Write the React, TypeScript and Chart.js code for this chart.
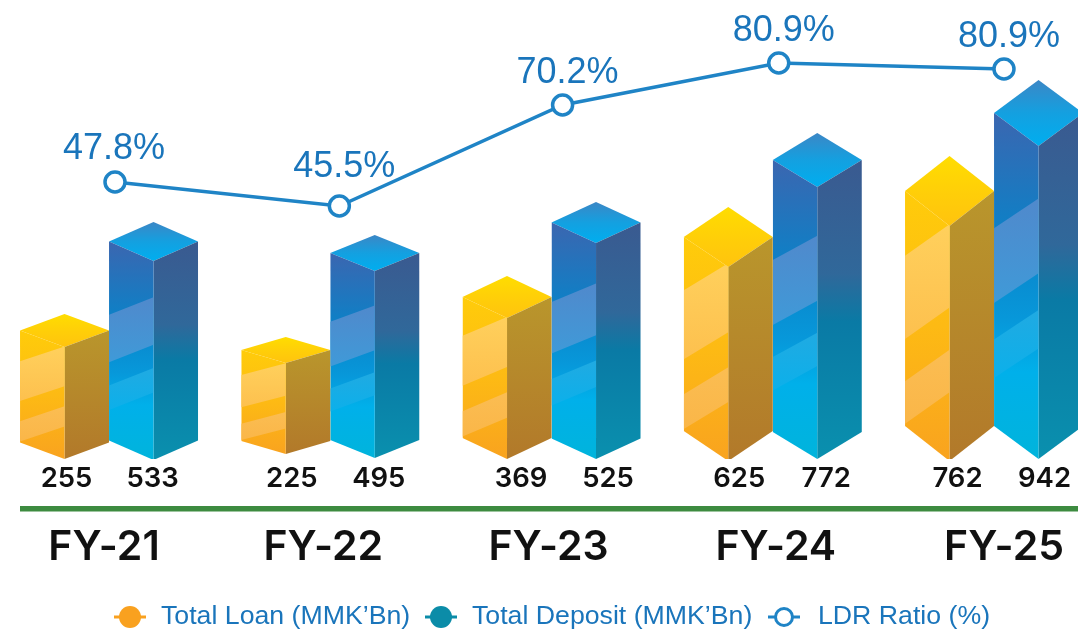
import React, { useEffect, useRef } from "react";
import { Chart, registerables, BarController } from "chart.js";

Chart.register(...registerables);

const categories = ["FY-21", "FY-22", "FY-23", "FY-24", "FY-25"];
const loanLabel = "Total Loan (MMK’Bn)";
const depositLabel = "Total Deposit (MMK’Bn)";
const ldrLabel = "LDR Ratio (%)";
const loanValues = [255, 225, 369, 625, 762];
const depositValues = [533, 495, 525, 772, 942];
const ldrValues = ["47.8%", "45.5%", "70.2%", "80.9%", "80.9%"];
// Drawn heights (the infographic is not to scale with its printed values)
const loanDrawnHeights = [112, 91, 141, 194, 235];
const depositDrawnHeights = [199, 187, 216, 272, 313];
const ldrDrawnLevels = [277, 253, 354, 396, 390];
const ldrCategoryPositions = [0.027, 1.041, 2.05, 3.027, 4.045];

// Styling of the isometric blocks, separate from the data
const loanDepth = [16.5, 13, 21, 30, 35];
const depositDepth = [19.5, 18, 20.5, 27, 33];
const loanDrop = [0, -5, 0, 2, 2];
const depositDrop = [1, -1, 0, 0, 0];
const loanLabelDx = [2, 6, 14, 11, 8];
const depositLabelDx = [-1, 4, 12, 9, 6];
const catLabelDx = [-5, -7, -3, 3, 10];
const ldrLabelOffset = [
  [-1, -33],
  [5, -39],
  [5, -32],
  [5, -32],
  [5, -32],
];

const BLUE_TEXT = "#1a75bb";
const PAGE_SHIFT = 2; // canvas sits 2px left of the page

type Stops = [number, string][];
type Palette = {
  top: Stops;
  side: Stops;
  left: Stops;
  stripes: [number, number, string, string][];
};

const loanPalette: Palette = {
  top: [
    [0, "#ffdd00"],
    [0.5, "#ffcf08"],
    [1, "#ffc30e"],
  ],
  side: [
    [0, "#b9962c"],
    [1, "#b2792a"],
  ],
  left: [
    [0, "#ffcc0a"],
    [0.5, "#fdba14"],
    [1, "#f9a31f"],
  ],
  stripes: [
    [0.275, 0.63, "#ffd05c", "#fdc04e"],
    [0.81, 0.99, "#fbbd52", "#fab648"],
  ],
};
const depositPalette: Palette = {
  top: [
    [0, "#3b87c6"],
    [0.5, "#14a0e0"],
    [1, "#00aeef"],
  ],
  side: [
    [0, "#3a5a90"],
    [0.38, "#30689a"],
    [0.54, "#0a7aa5"],
    [1, "#0a90ae"],
  ],
  left: [
    [0, "#3b66b0"],
    [0.36, "#0b82c8"],
    [0.6, "#0798da"],
    [0.75, "#00b0ea"],
    [1, "#00b4dc"],
  ],
  stripes: [
    [0.368, 0.607, "#5089cc", "#3f9ad8"],
    [0.724, 0.847, "#20aae2", "#0cb0ea"],
  ],
};

function poly(ctx: CanvasRenderingContext2D, pts: number[][]) {
  ctx.beginPath();
  pts.forEach(([x, y], i) => (i ? ctx.lineTo(x, y) : ctx.moveTo(x, y)));
  ctx.closePath();
}

function grad(ctx: CanvasRenderingContext2D, y0: number, y1: number, stops: Stops) {
  const g = ctx.createLinearGradient(0, y0, 0, y1);
  stops.forEach(([o, c]) => g.addColorStop(o, c));
  return g;
}

function drawBlock(
  ctx: CanvasRenderingContext2D,
  cx: number,
  frontTop: number,
  frontBottom: number,
  w: number,
  d: number,
  p: Palette
) {
  const l = cx - w / 2;
  const r = cx + w / 2;
  const cornerTop = frontTop - d;
  const cornerBottom = frontBottom - d;
  const apex = frontTop - 2 * d;

  // top face
  poly(ctx, [[l, cornerTop], [cx, apex], [r, cornerTop], [cx, frontTop]]);
  ctx.fillStyle = grad(ctx, apex, frontTop, p.top);
  ctx.fill();

  // right face
  poly(ctx, [[cx, frontTop], [r, cornerTop], [r, cornerBottom], [cx, frontBottom]]);
  ctx.fillStyle = grad(ctx, cornerTop, frontBottom, p.side);
  ctx.fill();

  // left face with its stripes
  ctx.save();
  poly(ctx, [[l, cornerTop], [cx, frontTop], [cx, frontBottom], [l, cornerBottom]]);
  ctx.clip();
  ctx.fillStyle = grad(ctx, cornerTop, frontBottom, p.left);
  ctx.fillRect(l, apex, w, frontBottom - apex);
  const edge = cornerBottom - cornerTop;
  const rise = d * 0.9;
  p.stripes.forEach(([a, b, c0, c1]) => {
    const ya = cornerTop + edge * a;
    const yb = cornerTop + edge * b;
    poly(ctx, [[l, ya], [cx, ya - rise], [cx, yb - rise], [l, yb]]);
    ctx.fillStyle = grad(ctx, ya - rise, yb, [[0, c0], [1, c1]]);
    ctx.fill();
  });
  ctx.restore();
}

class Block3DController extends BarController {
  static id = "block3d";
  static defaults = { ...(BarController as any).defaults };
  static overrides = (BarController as any).overrides;
  // the ratio line's own x axis must not split the bar groups
  _getAxis() {
    return ["x"];
  }
  draw() {
    const self = this as any;
    const ctx = self.chart.ctx;
    const ds = self.getDataset();
    self._cachedMeta.data.forEach((el: any, i: number) => {
      const { x, y, base, width } = el.getProps(["x", "y", "base", "width"], true);
      const drop = ds.blockDrop[i];
      drawBlock(ctx, x, y + drop, base + drop, width, ds.blockDepth[i], ds.blockPalette);
    });
  }
}
Chart.register(Block3DController as any);

const annotations = {
  id: "annotations",
  afterDraw(chart: any) {
    const ctx: CanvasRenderingContext2D = chart.ctx;
    const xs = chart.scales.x;
    const loanMeta = chart.getDatasetMeta(0).data;
    const depMeta = chart.getDatasetMeta(1).data;
    const ldrMeta = chart.getDatasetMeta(2).data;
    ctx.save();
    ctx.textBaseline = "middle";
    ctx.textAlign = "center";
    (ctx as any).textRendering = "optimizeSpeed";

    // bar value labels
    ctx.fillStyle = "#111111";
    ctx.font = "600 27.5px Inter";
    categories.forEach((_, i) => {
      ctx.fillText(String(loanValues[i]), loanMeta[i].x + loanLabelDx[i], 479);
      ctx.fillText(String(depositValues[i]), depMeta[i].x + depositLabelDx[i], 479);
    });

    // baseline rule
    ctx.fillStyle = "#3d8b40";
    ctx.fillRect(20 + PAGE_SHIFT, 506, 1078, 5.5);

    // category labels
    ctx.fillStyle = "#111111";
    ctx.font = "600 41px Inter";
    categories.forEach((c, i) => {
      ctx.fillText(c, xs.getPixelForValue(i) + catLabelDx[i], 548);
    });
    (ctx as any).textRendering = "auto";

    // ratio labels
    ctx.fillStyle = BLUE_TEXT;
    ctx.font = "36px 'Liberation Sans'";
    ldrValues.forEach((t, i) => {
      const p = ldrMeta[i];
      ctx.fillText(t, p.x + ldrLabelOffset[i][0], p.y + ldrLabelOffset[i][1]);
    });

    // legend
    const legendY = 617;
    const swatch = (cx: number, color: string, hollow: boolean) => {
      const x = cx + PAGE_SHIFT;
      ctx.strokeStyle = color;
      ctx.lineWidth = 3;
      ctx.beginPath();
      ctx.moveTo(x - 16, legendY);
      ctx.lineTo(x + 16, legendY);
      ctx.stroke();
      ctx.beginPath();
      ctx.arc(x, legendY, hollow ? 8.5 : 11, 0, Math.PI * 2);
      ctx.fillStyle = hollow ? "#ffffff" : color;
      ctx.fill();
      if (hollow) ctx.stroke();
    };
    swatch(130, "#f9a11f", false);
    swatch(441, "#0b8ca8", false);
    swatch(784, "#1f84c6", true);
    ctx.fillStyle = BLUE_TEXT;
    ctx.font = "26.7px 'Liberation Sans'";
    ctx.textAlign = "left";
    ctx.fillText(loanLabel, 161 + PAGE_SHIFT, legendY);
    ctx.fillText(depositLabel, 472 + PAGE_SHIFT, legendY);
    ctx.fillText(ldrLabel, 818 + PAGE_SHIFT, legendY);
    ctx.restore();
  },
};

export default function App() {
  const ref = useRef<HTMLCanvasElement>(null);
  useEffect(() => {
    const chart = new Chart(ref.current as HTMLCanvasElement, {
      type: "block3d" as any,
      data: {
        labels: categories,
        datasets: [
          {
            label: loanLabel,
            data: loanDrawnHeights,
            backgroundColor: "#f9a11f",
            blockDepth: loanDepth,
            blockDrop: loanDrop,
            blockPalette: loanPalette,
            order: 2,
          } as any,
          {
            label: depositLabel,
            data: depositDrawnHeights,
            backgroundColor: "#0b8ca8",
            blockDepth: depositDepth,
            blockDrop: depositDrop,
            blockPalette: depositPalette,
            order: 2,
          } as any,
          {
            type: "line",
            label: ldrLabel,
            xAxisID: "xLine",
            data: ldrCategoryPositions.map((x, i) => ({ x, y: ldrDrawnLevels[i] })),
            borderColor: "#1f84c6",
            borderWidth: 3.5,
            tension: 0,
            pointRadius: 10,
            pointBorderWidth: 3.5,
            pointBorderColor: "#1f84c6",
            pointBackgroundColor: "#ffffff",
            clip: false,
            order: 1,
          } as any,
        ],
      },
      options: {
        responsive: false,
        animation: false,
        layout: { autoPadding: false, padding: { left: 0.4, right: 3.35, top: 0, bottom: 176 } },
        categoryPercentage: 0.8045,
        barPercentage: 1,
        plugins: { legend: { display: false }, tooltip: { enabled: false } },
        scales: {
          x: { type: "category", display: false, offset: true },
          xLine: { type: "linear", display: false, min: -0.5, max: 4.5, offset: false },
          y: { type: "linear", display: false, min: 0, max: 459 },
        },
      } as any,
      plugins: [annotations],
    });
    return () => chart.destroy();
  }, []);
  return (
    <div style={{ position: "absolute", left: 0, top: 0, width: 1078, height: 635, overflow: "hidden", background: "#ffffff" }}>
      <canvas
        ref={ref}
        width={1110}
        height={635}
        style={{ position: "absolute", left: -PAGE_SHIFT, top: 0, width: 1110, height: 635 }}
      />
    </div>
  );
}
